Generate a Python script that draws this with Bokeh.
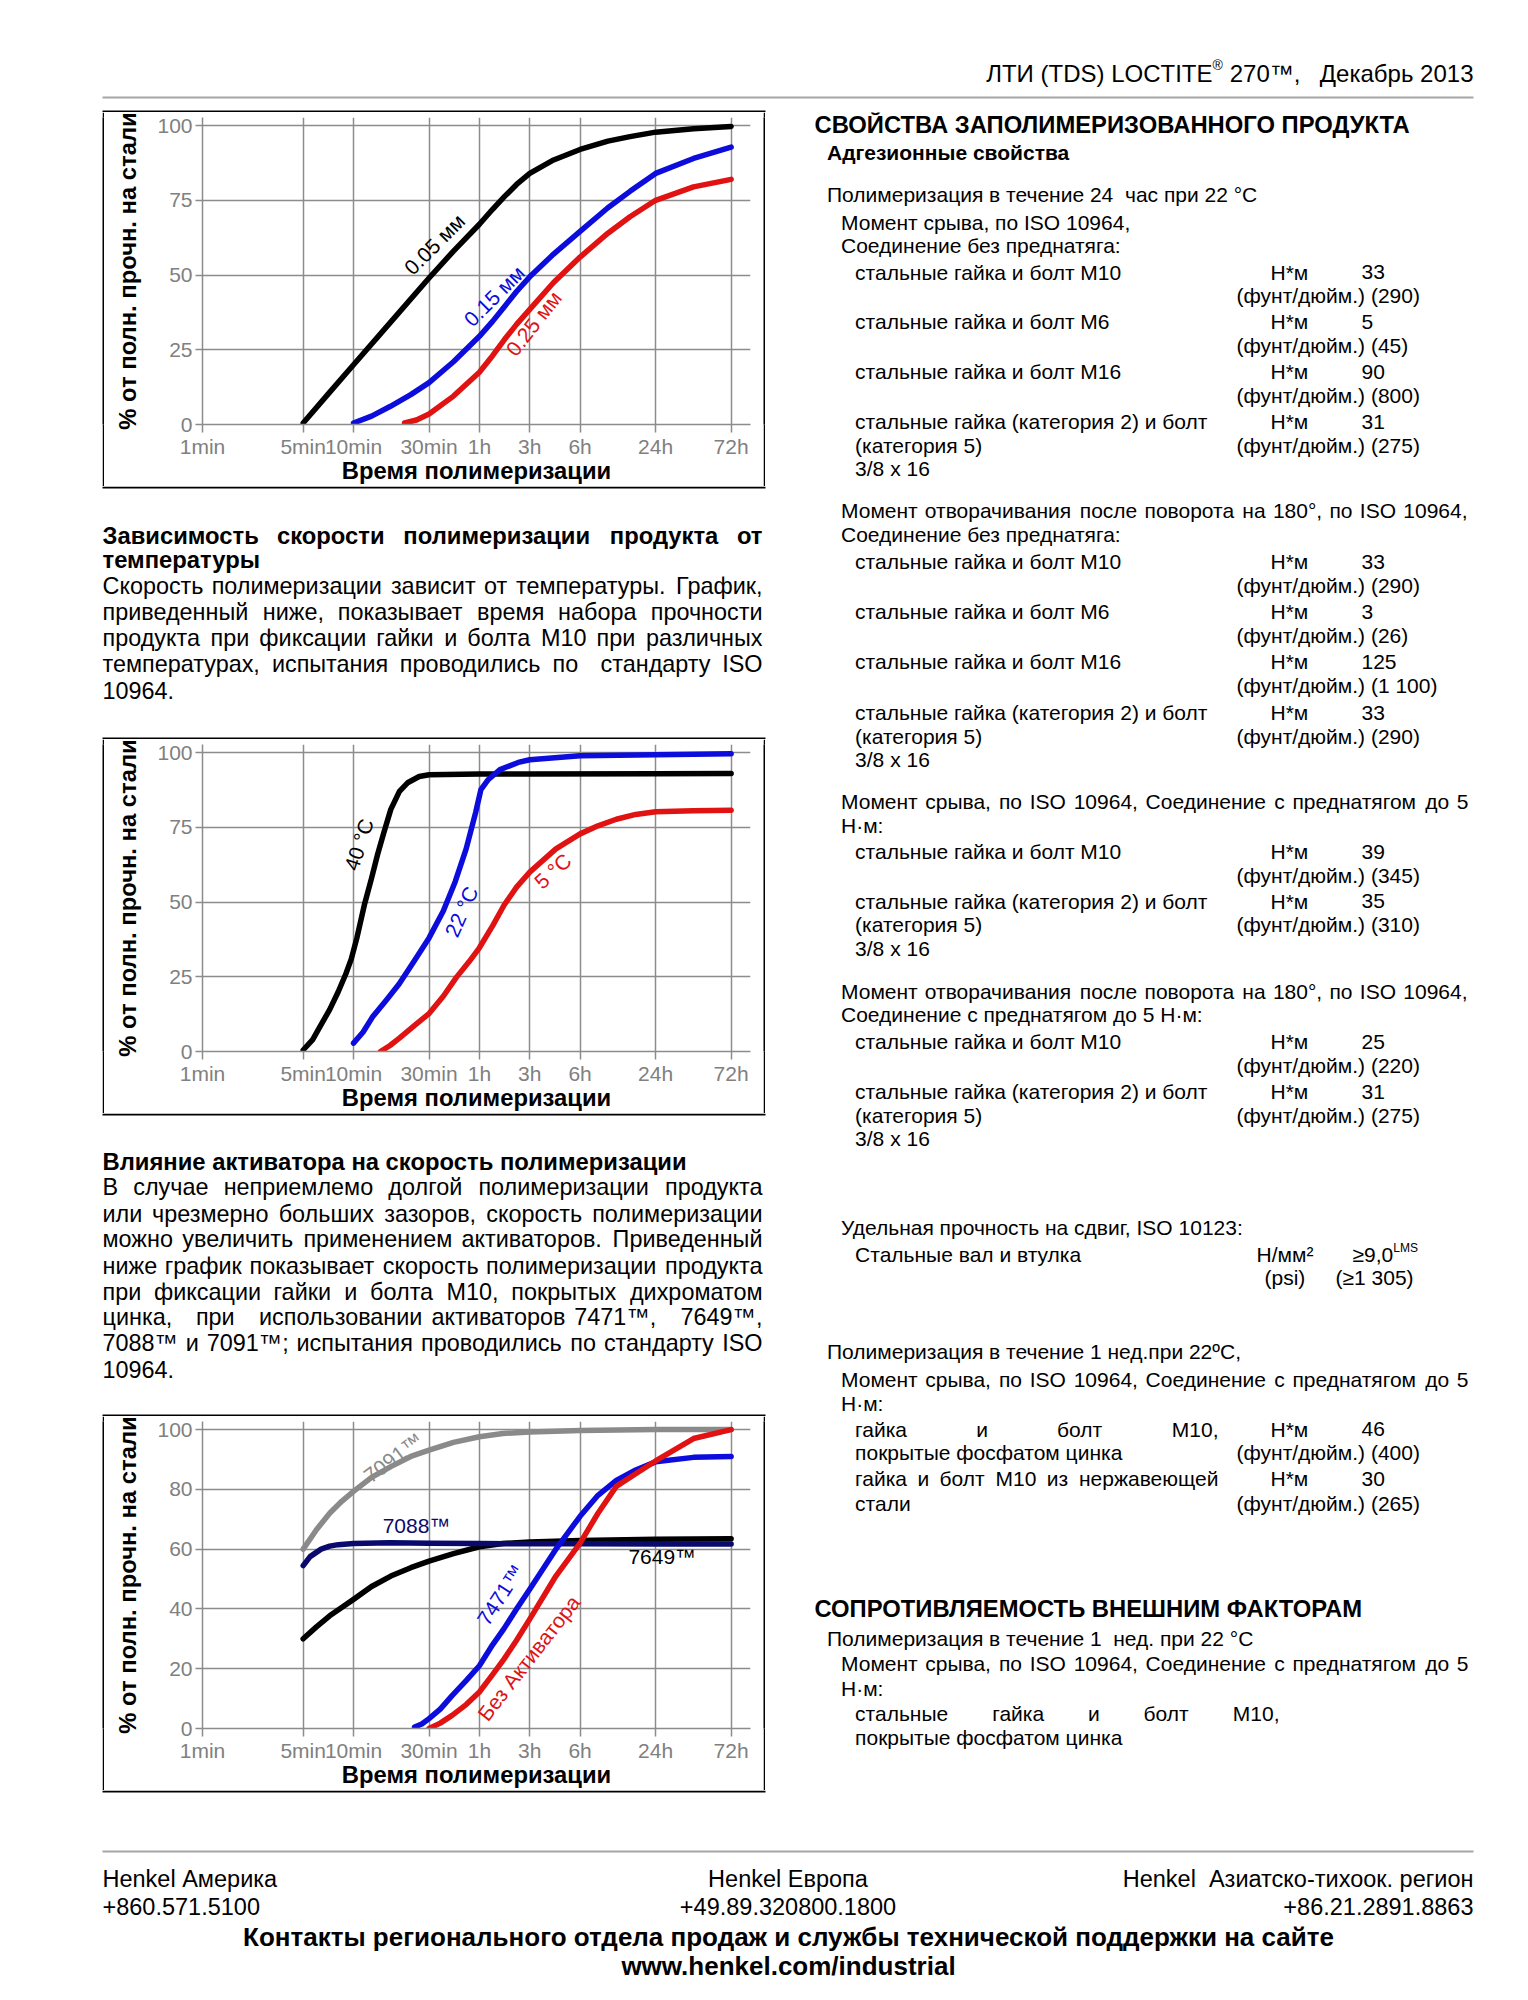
import numpy as np
from bokeh.plotting import figure
from bokeh.models import Range1d, FixedTicker, Spacer, ColumnDataSource
from bokeh.layouts import column, row
from bokeh.core.properties import value
from bokeh.embed import file_html
from bokeh.resources import INLINE

FONT = "Liberation Sans"
NB = "\u00a0"

# ---------------- time axis of the original charts (uneven grid) ----------------
TICK_MIN = [1, 5, 10, 30, 60, 180, 360, 1440, 4320]
TICK_LABELS = ["1min", "5min", "10min", "30min", "1h", "3h", "6h", "24h", "72h"]
AXIS_STEPS = [0, 4, 6, 9, 11, 13, 15, 18, 21]

# ---------------- chart 1: gap influence ----------------
T1_005 = [5, 7, 10, 17, 30, 42, 60, 80, 104, 135, 180, 250, 360, 600, 900, 1440, 2500, 4320]
V1_005 = [0.5, 10, 20, 34, 49, 58, 67, 72, 76.3, 80.3, 84, 88.5, 92, 94.8, 96.3, 97.8, 98.9, 99.7]
T1_015 = [10, 13, 17, 23, 30, 42, 60, 80, 104, 135, 180, 250, 360, 600, 900, 1440, 2500, 4320]
V1_015 = [0.5, 2.8, 6, 10, 14, 21, 29.5, 34.5, 39.5, 44.5, 49.4, 57, 64.6, 72.5, 78, 84, 89, 92.8]
T1_025 = [21, 25, 30, 42, 60, 80, 104, 135, 180, 250, 360, 600, 900, 1440, 2500, 4320]
V1_025 = [0.5, 1.5, 3.5, 9.5, 17.5, 23, 28.5, 33.5, 38.5, 47.5, 56, 64, 69.5, 75, 79.5, 82]

# ---------------- chart 2: temperature ----------------
T2_40 = [5, 5.7, 6.4, 7.2, 8.1, 9.0, 9.7, 10.5, 11.7, 13, 14.2, 15.5, 17.2, 19.5, 22.1, 26, 30, 60, 180, 1440, 4320]
V2_40 = [0.5, 4, 9, 14, 20, 26, 31, 38, 49, 58, 66, 73, 81, 87, 90, 92, 92.6, 92.8, 92.8, 92.9, 93]
T2_22 = [10, 11.5, 13.2, 16, 19.4, 24, 30, 36.5, 43, 50, 57, 62, 73, 94, 140, 180, 360, 1440, 4320]
V2_22 = [2.8, 6.5, 11.6, 17, 22.6, 30, 38, 47, 56.8, 67.8, 80, 87.6, 91, 94.3, 96.7, 97.6, 98.9, 99.3, 99.6]
T2_5 = [14.8, 17, 19.4, 24, 30, 36.5, 43.7, 52, 60, 80, 103, 135, 180, 258, 360, 500, 700, 1000, 1440, 2500, 4320]
V2_5 = [0, 2, 4.4, 8.5, 12.7, 18.5, 24.8, 30, 34.7, 42, 49, 55, 60, 67.8, 72.8, 75.5, 77.7, 79.3, 80.2, 80.5, 80.7]

# ---------------- chart 3: activators ----------------
T3_7091 = [5, 6, 7.2, 8.5, 10, 13, 17.2, 23, 30, 42, 60, 100, 180, 360, 1440, 4320]
V3_7091 = [60, 66.5, 72, 76, 79.3, 84, 87.6, 91, 93.1, 95.7, 97.6, 98.7, 99.2, 99.7, 100, 100]
T3_7649 = [5, 6, 7.2, 8.5, 10, 13, 17.2, 23, 30, 42, 60, 100, 180, 360, 1440, 4320]
V3_7649 = [30, 34, 37.7, 40.5, 43.2, 47.5, 51, 53.8, 56, 58.5, 60.8, 61.9, 62.4, 62.9, 63.3, 63.5]
T3_7088 = [5, 5.5, 6.4, 7.2, 8.1, 10, 17, 30, 60, 180, 360, 1440, 4320]
V3_7088 = [54.5, 57.5, 60, 61, 61.5, 61.9, 62.1, 62, 61.9, 61.8, 61.8, 61.7, 61.7]
T3_7471 = [24.3, 27, 30, 35, 41.2, 50, 60, 80, 103, 135, 180, 258, 360, 500, 700, 1000, 1440, 2500, 4320]
V3_7471 = [0.5, 1.5, 3.3, 6.5, 11, 16, 21, 28, 33.5, 40, 46.6, 60, 71, 78, 83, 86.5, 89.2, 90.7, 91]
T3_NONE = [30, 35, 41.2, 50, 60, 80, 103, 135, 180, 258, 360, 500, 700, 1000, 1440, 2500, 4320]
V3_NONE = [0, 1.8, 4.4, 8, 12.2, 18, 23.3, 29.5, 36.6, 51, 62, 72, 81, 85.2, 89.5, 97, 100]

YT_25 = [0, 25, 50, 75, 100]
YT_20 = [0, 20, 40, 60, 80, 100]

BLACK, BLUE, RED, GRAY, NAVY = "#000000", "#0c0cdc", "#e01212", "#8a8a8a", "#0a0a6e"
GRID = "#8c8c8c"


def tx(t):
    return np.interp(np.log10(np.asarray(t, dtype=float)), np.log10(TICK_MIN), AXIS_STEPS)


# ---------------- approximate glyph widths (for justified text) ----------------
def _tbl(pairs):
    d = {}
    for chars, ws in pairs:
        for c, w in zip(chars, ws):
            d[c] = w
    return d

RW = _tbl([
    ("abcdefghijklmnopqrstuvwxyz", [556,556,500,556,556,278,556,556,222,222,500,222,833,556,556,556,556,333,500,278,556,500,722,500,500,500]),
    ("ABCDEFGHIJKLMNOPQRSTUVWXYZ", [667,667,722,722,667,611,778,722,278,500,667,556,833,722,778,667,778,722,667,611,722,667,944,667,667,611]),
    ("абвгдежзийклмнопрстуфхцчшщъыьэюя", [556,573,531,365,583,556,669,458,559,559,438,583,688,552,556,542,556,500,458,500,823,500,573,521,802,823,625,719,521,510,750,542]),
    ("АБВГДЕЖЗИЙКЛМНОПРСТУФХЦЧШЩЪЫЬЭЮЯ", [667,656,667,542,677,667,923,604,719,719,583,656,833,722,778,719,667,722,611,635,760,667,740,667,917,938,792,885,656,719,1010,722]),
    (" .,:;()/*-°™²≥·%º®+" + NB, [278,278,278,278,278,333,333,278,389,333,400,1000,333,549,278,889,365,737,584,278]),
])
BW = _tbl([
    ("abcdefghijklmnopqrstuvwxyz", [556,611,556,611,556,333,611,611,278,278,556,278,889,611,611,611,611,389,556,333,611,556,778,556,556,500]),
    ("ABCDEFGHIJKLMNOPQRSTUVWXYZ", [722,722,722,722,667,611,778,722,278,556,722,611,833,722,778,667,778,722,667,611,722,667,944,667,667,611]),
    ("абвгдежзийклмнопрстуфхцчшщъыьэюя", [556,604,563,385,615,556,775,510,615,615,485,615,740,615,611,615,611,556,490,556,885,556,625,583,885,906,677,823,583,556,854,573]),
    ("АБВГДЕЖЗИЙКЛМНОПРСТУФХЦЧШЩЪЫЬЭЮЯ", [722,719,722,615,740,667,1000,667,722,722,656,740,833,722,778,722,667,722,611,667,865,667,760,677,1000,1021,865,1000,719,729,1115,729]),
    (" .,:;()/*-°™", [278,278,278,333,333,333,333,278,389,333,400,1000]),
])


def textw(s, size, bold=False):
    t = BW if bold else RW
    return sum(t.get(c, 556) for c in s) / 1000.0 * size


# ---------------- text sheets (page pixel coordinates) ----------------
class Sheet:
    def __init__(self, w, h, ox, oy):
        self.ox, self.oy = ox, oy
        f = figure(width=w, height=h, x_range=Range1d(0, w), y_range=Range1d(h, 0),
                   toolbar_location=None, output_backend="svg", title=None,
                   x_axis_type=None, y_axis_type=None, min_border=0)
        f.outline_line_color = None
        f.background_fill_color = "white"
        f.border_fill_color = "white"
        self.fig = f
        self.items = {}

    def put(self, x, y, s, size=21, bold=False, color="black", align="left"):
        key = (size, bold, color, align)
        d = self.items.setdefault(key, {"x": [], "y": [], "text": []})
        d["x"].append(x - self.ox)
        d["y"].append(y - self.oy)
        d["text"].append(s)

    def hline(self, x0, x1, y, color, width):
        self.fig.line([x0 - self.ox, x1 - self.ox], [y - self.oy, y - self.oy],
                      line_color=color, line_width=width)

    def bar(self, x0, x1, y0, y1, color="black"):
        self.fig.quad(left=x0 - self.ox, right=x1 - self.ox, top=y0 - self.oy, bottom=y1 - self.oy,
                      fill_color=color, line_color=None)

    def finish(self):
        for (size, bold, color, align), d in self.items.items():
            self.fig.text(x="x", y="y", text="text", source=ColumnDataSource(d),
                          text_font=value(FONT), text_font_size=f"{size}px",
                          text_font_style="bold" if bold else "normal",
                          text_color=color, text_align=align, text_baseline="middle")
        return self.fig


def just(S, x0, x1, y, s, size=21, bold=False, color="black"):
    words = s.split(" ")
    ws = [textw(w, size, bold) for w in words]
    n = len(words) - 1
    gap = (x1 - x0 - sum(ws)) / n if n > 0 else 0
    if n <= 0 or gap < 0.2 * size:
        S.put(x0, y, s, size, bold, color)
        return
    x = x0
    for i, (w, wd) in enumerate(zip(words, ws)):
        if w:
            if i == n:
                S.put(x1, y, w, size, bold, color, align="right")
            else:
                S.put(x, y, w, size, bold, color)
        x += wd + gap


# ---------------- charts ----------------
def make_chart(curves, labels, yticks):
    p = figure(width=659, height=374, x_range=Range1d(0, 21.77), y_range=Range1d(0, 102.7),
               toolbar_location=None, output_backend="svg", title=None,
               min_border_left=98, min_border_right=13, min_border_top=5, min_border_bottom=59)
    p.outline_line_color = None
    p.background_fill_color = "white"
    p.border_fill_color = "white"
    xa, ya = p.xaxis[0], p.yaxis[0]
    xa.ticker = FixedTicker(ticks=AXIS_STEPS)
    xa.major_label_overrides = {int(s): l for s, l in zip(AXIS_STEPS, TICK_LABELS)}
    ya.ticker = FixedTicker(ticks=yticks)
    p.xgrid.ticker = FixedTicker(ticks=AXIS_STEPS)
    p.ygrid.ticker = FixedTicker(ticks=yticks)
    p.xgrid.grid_line_color = GRID
    p.ygrid.grid_line_color = GRID
    p.xgrid.grid_line_width = 1.5
    p.ygrid.grid_line_width = 1.5
    for ax in (xa, ya):
        ax.axis_line_color = GRID
        ax.axis_line_width = 1.5
        ax.major_tick_line_color = GRID
        ax.major_tick_line_width = 1.5
        ax.major_tick_in = 0
        ax.minor_tick_line_color = None
        ax.major_label_text_font = FONT
        ax.major_label_text_font_size = "21px"
        ax.major_label_text_color = "#808080"
        ax.axis_label_text_font = FONT
        ax.axis_label_text_font_size = "23.8px"
        ax.axis_label_text_font_style = "bold"
        ax.axis_label_text_color = "black"
    xa.major_tick_out = 8
    xa.major_label_standoff = 2
    xa.axis_label_standoff = -4
    ya.major_tick_out = 7
    ya.major_label_standoff = 3
    ya.axis_label_standoff = 13
    xa.axis_label = "Время полимеризации"
    ya.axis_label = "% от полн. прочн. на стали"
    for t, v, color in curves:
        p.line(tx(t), v, line_width=5.5, line_color=color, line_join="round", line_cap="round")
    for s, t, v, ang, color in labels:
        p.text(x=[float(tx(t))], y=[v], text=[s], angle=[np.radians(ang)],
               text_font=value(FONT), text_font_size="21px", text_color=color,
               text_align="center", text_baseline="middle")
    return p


def blk(w, h):
    f = figure(width=w, height=h, toolbar_location=None, output_backend="svg", title=None,
               x_axis_type=None, y_axis_type=None, min_border=0)
    f.outline_line_color = None
    f.background_fill_color = "black"
    f.border_fill_color = "black"
    return f


def boxed(p):
    return row(Spacer(width=102, height=374), blk(2, 374), p,
               blk(2, 374), Spacer(width=15, height=374))


c1 = make_chart(
    [(T1_005, V1_005, BLACK), (T1_015, V1_015, BLUE), (T1_025, V1_025, RED)],
    [("0.05 мм", 32.3, 60.3, 45, BLACK), ("0.15 мм", 83, 43, 45, BLUE), ("0.25 мм", 190, 33.8, 52, RED)],
    YT_25)
c2 = make_chart(
    [(T2_40, V2_40, BLACK), (T2_22, V2_22, BLUE), (T2_5, V2_5, RED)],
    [("40 °C", 10.8, 69.2, 72, BLACK), ("22 °C", 46.8, 46.8, 66, BLUE), ("5 °C", 247, 60.4, 42, RED)],
    YT_25)
c3 = make_chart(
    [(T3_7091, V3_7091, GRAY), (T3_7649, V3_7649, BLACK), (T3_7088, V3_7088, NAVY),
     (T3_7471, V3_7471, BLUE), (T3_NONE, V3_NONE, RED)],
    [("7091™", 17.8, 90.6, 37, GRAY), ("7088™", 25, 67.9, 0, NAVY), ("7649™", 1586, 57.4, 0, BLACK),
     ("7471™", 95, 44.7, 57, BLUE), ("Без Активатора", 176, 23.6, 52, RED)],
    YT_20)

BOX_X0, BOX_X1 = 102, 765
HEAD = 23.8     # bold section headings
BODY_L = 23.4   # left column text
BODY_R = 21     # right column text

# ---------------- header ----------------
H = Sheet(1520, 112, 0, 0)
H.hline(102, 1473, 97, "#a6a6a6", 2)
H.bar(BOX_X0, BOX_X1, 110, 112)
H.put(1473, 72.7, "Декабрь 2013", 24, align="right")
x_270 = 1473 - textw("Декабрь 2013", 24) - textw("   ", 24) - textw("270™,", 24)
H.put(x_270, 72.7, "270™,", 24)
x_reg = x_270 - textw(" ", 24) - 10.5
H.put(x_reg, 64, "®", 14)
H.put(x_reg, 72.7, "ЛТИ (TDS) LOCTITE", 24, align="right")

# ---------------- left texts ----------------
XL0, XL1 = 102, 762
L1 = Sheet(780, 253, 0, 486)
L1.bar(BOX_X0, BOX_X1, 486, 488)
L1.bar(BOX_X0, BOX_X1, 737, 739)
just(L1, XL0, XL1, 534.5, "Зависимость скорости полимеризации продукта от", HEAD, True)
L1.put(XL0, 558.7, "температуры", HEAD, True)
just(L1, XL0, XL1, 585.5, "Скорость полимеризации зависит от температуры. График,", BODY_L)
just(L1, XL0, XL1, 611, "приведенный ниже, показывает время набора прочности", BODY_L)
just(L1, XL0, XL1, 637.8, "продукта при фиксации гайки и болта М10 при различных", BODY_L)
just(L1, XL0, XL1, 663.3, "температурах, испытания проводились по  стандарту ISO", BODY_L)
L1.put(XL0, 690, "10964.", BODY_L)

L2 = Sheet(780, 303, 0, 1113)
L2.bar(BOX_X0, BOX_X1, 1113, 1115)
L2.bar(BOX_X0, BOX_X1, 1414, 1416)
L2.put(XL0, 1160.7, "Влияние активатора на скорость полимеризации", HEAD, True)
just(L2, XL0, XL1, 1186.5, "В случае неприемлемо долгой полимеризации продукта", BODY_L)
just(L2, XL0, XL1, 1213, "или чрезмерно больших зазоров, скорость полимеризации", BODY_L)
just(L2, XL0, XL1, 1238.5, "можно увеличить применением активаторов. Приведенный", BODY_L)
just(L2, XL0, XL1, 1265, "ниже график показывает скорость полимеризации продукта", BODY_L)
just(L2, XL0, XL1, 1291, "при фиксации гайки и болта М10, покрытых дихроматом", BODY_L)
just(L2, XL0, XL1, 1316.5, "цинка,   при   использовании активаторов 7471™,   7649™,", BODY_L)
just(L2, XL0, XL1, 1342, "7088™ и 7091™; испытания проводились по стандарту ISO", BODY_L)
L2.put(XL0, 1368.6, "10964.", BODY_L)

# ---------------- right column ----------------
X0, X1, X2, XU, XV, XF = 826.5, 840.5, 854.6, 1270, 1361, 1236
R = Sheet(740, 1678, 780, 112)


def torque(y, lines, val, fval, dy=23.5):
    R.put(X2, y, lines[0])
    R.put(XU, y, "Н*м")
    R.put(XV, y, val)
    R.put(XF, y + dy, "(фунт/дюйм.) " + fval)
    for i, l in enumerate(lines[1:]):
        R.put(X2, y + dy * (i + 1), l)


CAT = ["стальные гайка (категория 2) и болт", "(категория 5)", "3/8 x 16"]
M10, M6, M16 = ["стальные гайка и болт М10"], ["стальные гайка и болт М6"], ["стальные гайка и болт М16"]

R.put(814, 123.7, "СВОЙСТВА ЗАПОЛИМЕРИЗОВАННОГО ПРОДУКТА", HEAD, True)
R.put(X0, 151.8, "Адгезионные свойства", 21, True)
R.put(X0, 193.9, "Полимеризация в течение 24" + NB + " час при 22 °C")
R.put(X1, 222, "Момент срыва, по ISO 10964,")
R.put(X1, 245, "Соединение без преднатяга:")
torque(271.7, M10, "33", "(290)")
torque(321.4, M6, "5", "(45)")
torque(371, M16, "90", "(800)")
torque(421, CAT, "31", "(275)")

just(R, X1, 1467, 510, "Момент отворачивания после поворота на 180°, по ISO 10964,")
R.put(X1, 534, "Соединение без преднатяга:")
torque(561, M10, "33", "(290)")
torque(611, M6, "3", "(26)")
torque(661, M16, "125", "(1 100)")
torque(712, CAT, "33", "(290)")

just(R, X1, 1468, 801, "Момент срыва, по ISO 10964, Соединение с преднатягом до 5")
R.put(X1, 825, "Н·м:")
torque(851, M10, "39", "(345)")
torque(900.5, CAT, "35", "(310)")

just(R, X1, 1467, 991, "Момент отворачивания после поворота на 180°, по ISO 10964,")
R.put(X1, 1014, "Соединение с преднатягом до 5 Н·м:")
torque(1041, M10, "25", "(220)")
torque(1091, CAT, "31", "(275)")

R.put(X1, 1227, "Удельная прочность на сдвиг, ISO 10123:")
R.put(X2, 1254, "Стальные вал и втулка")
R.put(1256, 1254, "Н/мм²")
R.put(1352, 1254, "≥9,0")
R.put(1352 + textw("≥9,0", 21), 1247, "LMS", 12)
R.put(1264, 1277, "(psi)")
R.put(1335, 1277, "(≥1 305)")

R.put(X0, 1351, "Полимеризация в течение 1 нед.при 22ºC,")
just(R, X1, 1468, 1379, "Момент срыва, по ISO 10964, Соединение с преднатягом до 5")
R.put(X1, 1403, "Н·м:")
just(R, X2, 1218, 1428.6, "гайка и болт М10,")
R.put(XU, 1428.6, "Н*м")
R.put(XV, 1428.6, "46")
R.put(X2, 1451.5, "покрытые фосфатом цинка")
R.put(XF, 1451.5, "(фунт/дюйм.) (400)")
just(R, X2, 1218, 1478, "гайка и болт М10 из нержавеющей")
R.put(XU, 1478, "Н*м")
R.put(XV, 1478, "30")
R.put(X2, 1502.6, "стали")
R.put(XF, 1502.6, "(фунт/дюйм.) (265)")

R.put(814, 1608, "СОПРОТИВЛЯЕМОСТЬ ВНЕШНИМ ФАКТОРАМ", HEAD, True)
R.put(X0, 1637.8, "Полимеризация в течение 1" + NB + " нед. при 22 °C")
just(R, X1, 1468, 1663, "Момент срыва, по ISO 10964, Соединение с преднатягом до 5")
R.put(X1, 1687.5, "Н·м:")
just(R, X2, 1279, 1713, "стальные гайка и болт М10,")
R.put(X2, 1737, "покрытые фосфатом цинка")

# ---------------- footer ----------------
F = Sheet(1520, 202, 0, 1790)
F.bar(BOX_X0, BOX_X1, 1790, 1792)
F.hline(102, 1473, 1851, "#a6a6a6", 2)
F.put(102, 1878.8, "Henkel Америка", 23.5)
F.put(102, 1905.6, "+860.571.5100", 23.5)
F.put(787.5, 1878.8, "Henkel Европа", 23.5, align="center")
F.put(787.5, 1905.6, "+49.89.320800.1800", 23.5, align="center")
F.put(1473, 1878.8, "Henkel" + NB + " Азиатско-тихоок. регион", 23.5, align="right")
F.put(1473, 1905.6, "+86.21.2891.8863", 23.5, align="right")
F.put(788, 1936, "Контакты регионального отдела продаж и службы технической поддержки на сайте", 26, True, align="center")
F.put(788, 1965.6, "www.henkel.com/industrial", 26, True, align="center")

left = column(boxed(c1), L1.finish(), boxed(c2), L2.finish(), boxed(c3))
page = column(H.finish(), row(left, R.finish()), F.finish())

open("out.html", "w").write(file_html(page, INLINE, title="LOCTITE 270 TDS"))
